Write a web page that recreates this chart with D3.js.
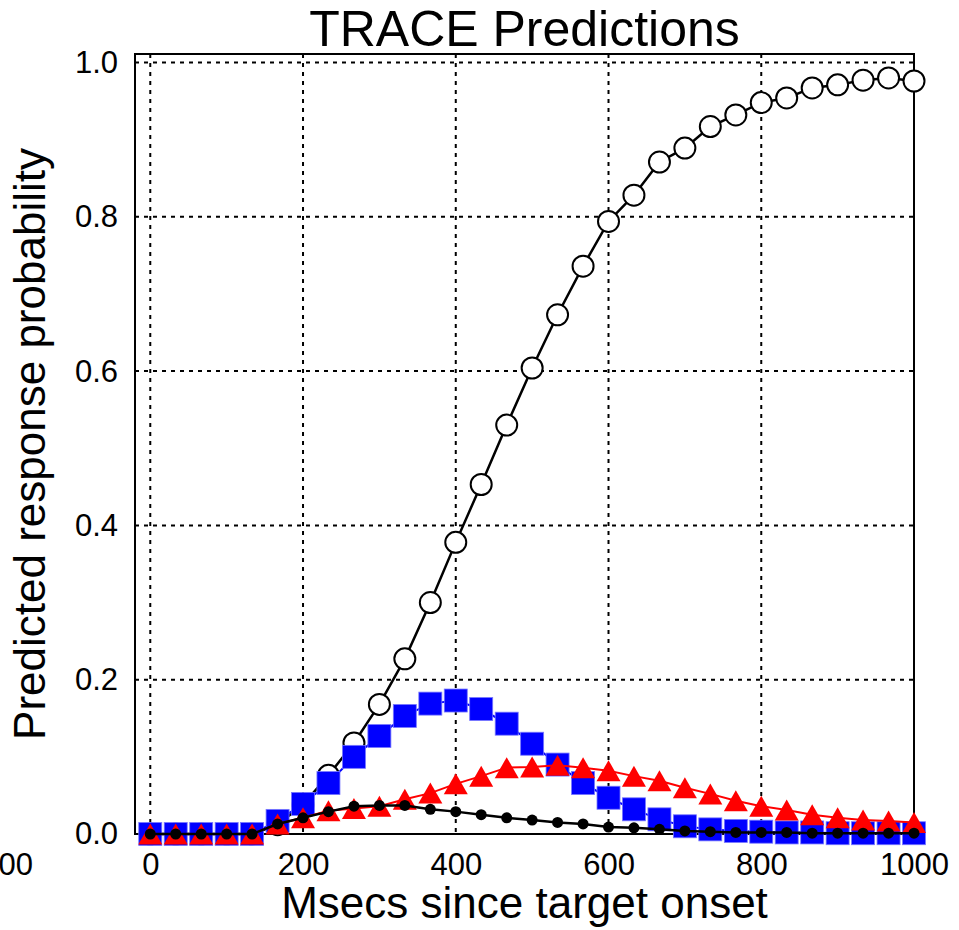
<!DOCTYPE html>
<html>
<head>
<meta charset="utf-8">
<script src="https://cdn.jsdelivr.net/npm/d3@7"></script>
<style>
  body { margin: 0; background: #fff; }
  svg { display: block; font-family: "Liberation Sans", Arial, Helvetica, sans-serif; }
  .tick line { display: none; }
</style>
</head>
<body>
<svg id="chart"></svg>
<script>
// Time points (msecs since target onset)
const msecs = [0, 33.3, 66.7, 100, 133.3, 166.7, 200, 233.3, 266.7, 300,
  333.3, 366.7, 400, 433.3, 466.7, 500, 533.3, 566.7, 600, 633.3,
  666.7, 700, 733.3, 766.7, 800, 833.3, 866.7, 900, 933.3, 966.7, 1000];

// Predicted response probabilities
const referent = [0, 0, 0, 0, 0, 0.012, 0.038, 0.076, 0.118, 0.168,
  0.227, 0.300, 0.378, 0.453, 0.530, 0.604, 0.673, 0.736, 0.794, 0.828,
  0.871, 0.889, 0.917, 0.932, 0.948, 0.954, 0.967, 0.971, 0.977, 0.980, 0.976];
const cohort = [0, 0, 0, 0, 0, 0.017, 0.039, 0.066, 0.100, 0.127,
  0.153, 0.169, 0.173, 0.162, 0.143, 0.117, 0.090, 0.066, 0.047, 0.032,
  0.019, 0.010, 0.006, 0.004, 0.003, 0.002, 0.002, 0.001, 0.001, 0.001, 0.001];
const rhyme = [0, 0, 0, 0, 0, 0.013, 0.021, 0.030, 0.033, 0.036,
  0.045, 0.053, 0.065, 0.075, 0.086, 0.087, 0.089, 0.086, 0.082, 0.075,
  0.069, 0.060, 0.052, 0.043, 0.036, 0.031, 0.025, 0.021, 0.018, 0.017, 0.015];
const unrelated = [0, 0, 0, 0, 0, 0.013, 0.021, 0.029, 0.036, 0.037,
  0.037, 0.032, 0.029, 0.025, 0.021, 0.018, 0.015, 0.013, 0.009, 0.008,
  0.006, 0.004, 0.003, 0.002, 0.002, 0.002, 0.001, 0.001, 0.001, 0.001, 0.001];

// Tick labels
const xTicks = [-200, 0, 200, 400, 600, 800, 1000];
const xGrid = [0, 200, 400, 600, 800, 1000];
const yTicks = [0, 0.2, 0.4, 0.6, 0.8, 1.0];

const width = 959;
const height = 930;
const margin = { top: 54, right: 45, bottom: 96, left: 135 };
const innerWidth = width - margin.left - margin.right;
const innerHeight = height - margin.top - margin.bottom;

const svg = d3.select("#chart")
  .attr("width", width)
  .attr("height", height);

const innerChart = svg.append("g")
  .attr("transform", `translate(${margin.left},${margin.top})`);

// Scales
const xScale = d3.scaleLinear()
  .domain([-20, 1000])
  .range([0, innerWidth]);

const yScale = d3.scaleLinear()
  .domain([0, 1.011])
  .range([innerHeight, 0]);

// Dotted grid
innerChart.append("g")
  .attr("class", "grid")
  .selectAll("line.gx")
  .data(xGrid)
  .join("line")
  .attr("x1", d => xScale(d))
  .attr("x2", d => xScale(d))
  .attr("y1", 0)
  .attr("y2", innerHeight)
  .attr("stroke", "#000")
  .attr("stroke-width", 2)
  .attr("stroke-dasharray", "4,5");

innerChart.append("g")
  .attr("class", "grid")
  .selectAll("line.gy")
  .data(yTicks)
  .join("line")
  .attr("x1", 0)
  .attr("x2", innerWidth)
  .attr("y1", d => yScale(d))
  .attr("y2", d => yScale(d))
  .attr("stroke", "#000")
  .attr("stroke-width", 2)
  .attr("stroke-dasharray", "4,5");

// Frame
innerChart.append("rect")
  .attr("x", 0)
  .attr("y", 0)
  .attr("width", innerWidth)
  .attr("height", innerHeight)
  .attr("fill", "none")
  .attr("stroke", "#000")
  .attr("stroke-width", 2);

// Axes
const bottomAxis = d3.axisBottom(xScale)
  .tickValues(xTicks)
  .tickSize(0)
  .tickPadding(19)
  .tickFormat(d3.format("d"));
innerChart.append("g")
  .attr("transform", `translate(0, ${innerHeight})`)
  .call(bottomAxis)
  .call(g => g.select(".domain").remove())
  .selectAll("text")
  .attr("font-size", 31)
  .attr("font-family", null)
  .attr("fill", "#000");

const leftAxis = d3.axisLeft(yScale)
  .tickValues(yTicks)
  .tickSize(0)
  .tickPadding(17)
  .tickFormat(d3.format(".1f"));
innerChart.append("g")
  .call(leftAxis)
  .call(g => g.select(".domain").remove())
  .selectAll("text")
  .attr("font-size", 31)
  .attr("font-family", null)
  .attr("fill", "#000");

// Series
const series = (values) => values.map((v, i) => ({ x: msecs[i], y: v }));
const lineGen = d3.line()
  .x(d => xScale(d.x))
  .y(d => yScale(d.y));

// Referent: open circles
innerChart.append("path")
  .datum(series(referent))
  .attr("d", lineGen)
  .attr("fill", "none")
  .attr("stroke", "#000")
  .attr("stroke-width", 2.5);
innerChart.append("g")
  .selectAll("circle")
  .data(series(referent))
  .join("circle")
  .attr("cx", d => xScale(d.x))
  .attr("cy", d => yScale(d.y))
  .attr("r", 10.5)
  .attr("fill", "#fff")
  .attr("stroke", "#000")
  .attr("stroke-width", 2);

// Cohort: blue squares
const sq = 23;
innerChart.append("path")
  .datum(series(cohort))
  .attr("d", lineGen)
  .attr("fill", "none")
  .attr("stroke", "#0000ff")
  .attr("stroke-width", 2);
innerChart.append("g")
  .selectAll("rect")
  .data(series(cohort))
  .join("rect")
  .attr("x", d => xScale(d.x) - sq / 2)
  .attr("y", d => yScale(d.y) - sq / 2)
  .attr("width", sq)
  .attr("height", sq)
  .attr("fill", "#0000ff")
  .attr("stroke", "#7777ff")
  .attr("stroke-width", 0.8);

// Rhyme: red triangles
innerChart.append("path")
  .datum(series(rhyme))
  .attr("d", lineGen)
  .attr("fill", "none")
  .attr("stroke", "#ff0000")
  .attr("stroke-width", 2);
const tri = "M0,-10.5L12,10.5L-12,10.5Z";
innerChart.append("g")
  .selectAll("path")
  .data(series(rhyme))
  .join("path")
  .attr("d", tri)
  .attr("transform", d => `translate(${xScale(d.x)},${yScale(d.y)})`)
  .attr("fill", "#ff0000");

// Unrelated: small black dots
innerChart.append("path")
  .datum(series(unrelated))
  .attr("d", lineGen)
  .attr("fill", "none")
  .attr("stroke", "#000")
  .attr("stroke-width", 2.5);
innerChart.append("g")
  .selectAll("circle")
  .data(series(unrelated))
  .join("circle")
  .attr("cx", d => xScale(d.x))
  .attr("cy", d => yScale(d.y))
  .attr("r", 5.5)
  .attr("fill", "#000");

// Title and axis labels
svg.append("text")
  .text("TRACE Predictions")
  .attr("x", margin.left + innerWidth / 2)
  .attr("y", 46)
  .attr("text-anchor", "middle")
  .attr("font-size", 50);

svg.append("text")
  .text("Msecs since target onset")
  .attr("x", margin.left + innerWidth / 2)
  .attr("y", 918)
  .attr("text-anchor", "middle")
  .attr("font-size", 44);

svg.append("text")
  .text("Predicted response probability")
  .attr("transform", `translate(45, ${margin.top + innerHeight / 2}) rotate(-90)`)
  .attr("text-anchor", "middle")
  .attr("font-size", 44);
</script>
</body>
</html>
